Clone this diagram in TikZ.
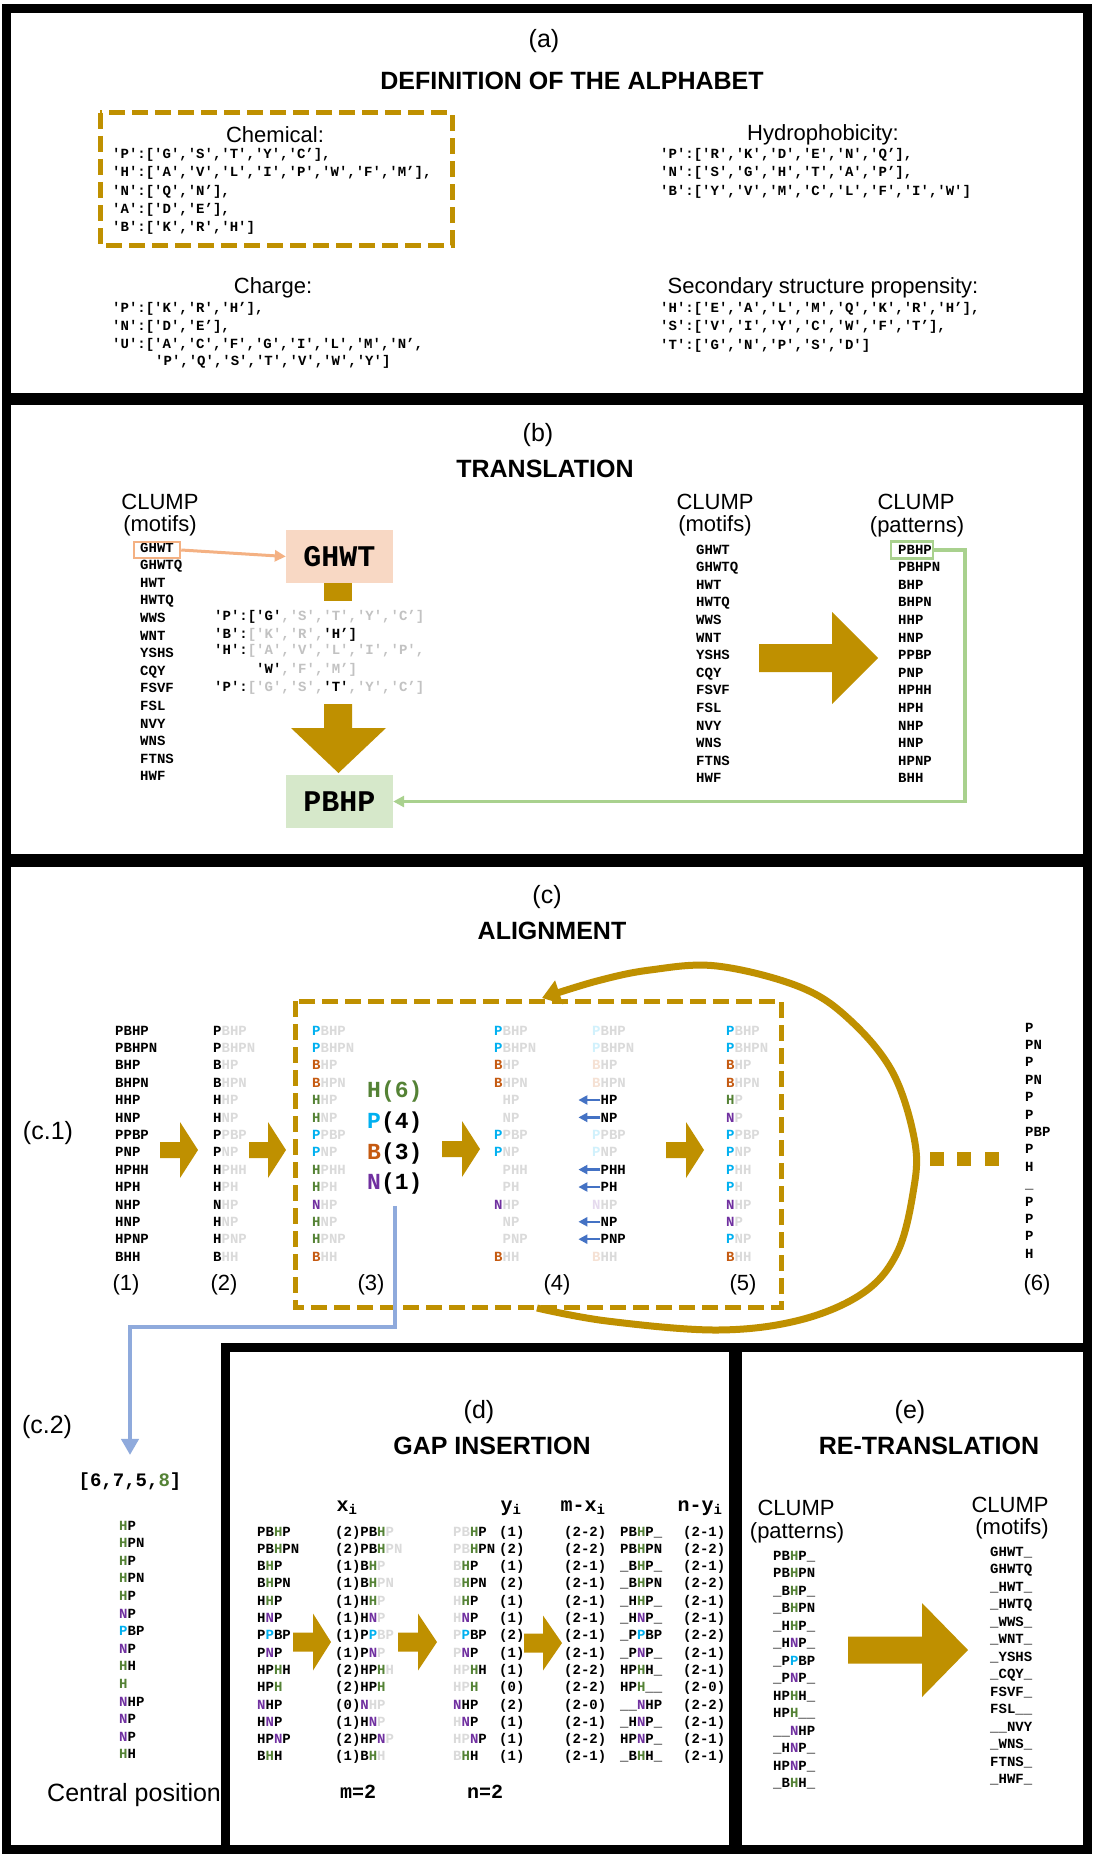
\documentclass[tikz,border=0pt]{standalone}
\usepackage{fontspec}
\setmainfont{Liberation Sans}
\setmonofont{Liberation Mono}
\usetikzlibrary{arrows.meta}
\definecolor{gold}{HTML}{BF9000}
\definecolor{cP}{HTML}{00B0F0}
\definecolor{cB}{HTML}{C55A11}
\definecolor{cH}{HTML}{548235}
\definecolor{cN}{HTML}{7030A0}
\definecolor{ghost}{HTML}{DADADA}
\definecolor{codegray}{HTML}{C2C2C2}
\definecolor{peach}{HTML}{F8D8C4}
\definecolor{lgreen}{HTML}{D6E8CA}
\definecolor{orl}{HTML}{F4B183}
\definecolor{grl}{HTML}{A9D18E}
\definecolor{bluel}{HTML}{8FAADC}
\definecolor{bluea}{HTML}{4472C4}
\newcommand{\setfs}[1]{\fontsize{#1}{#1}\selectfont}
\newcommand{\colr}[1]{\textcolor{c#1}{#1}}
\newcommand{\lcol}[1]{\textcolor{c#1!18}{#1}}
\newcommand{\ghs}[1]{\textcolor{ghost}{#1}}
\newcommand{\cgr}[1]{\textcolor{codegray}{#1}}
\newcommand{\usc}[1]{\ifcase\numexpr2-#1\relax\or\_\or\_\_\fi}
\newcommand{\RArr}[6]{\fill[gold] ({#1},{#4-#5}) -- ({#2},{#4-#5}) -- ({#2},{#4-#6}) -- ({#3},{#4}) -- ({#2},{#4+#6}) -- ({#2},{#4+#5}) -- ({#1},{#4+#5}) -- cycle;}
\begin{document}
\begin{tikzpicture}[x=1pt,y=-1pt,
  mono/.style={font=\ttfamily\bfseries\setfs{14}, inner sep=0pt, anchor=base west},
  bigmono/.style={font=\ttfamily\bfseries\setfs{23}, inner sep=0pt, anchor=base west},
  lbl/.style={font=\setfs{25}, inner sep=0pt},
  ttl/.style={font=\bfseries\setfs{25}, inner sep=0pt},
  sub/.style={font=\setfs{22}, inner sep=0pt},
  num/.style={font=\setfs{22}, inner sep=0pt},
  hdr/.style={font=\ttfamily\bfseries\setfs{20}, inner sep=0pt},
  panel/.style={draw=black, line width=9pt},
  gdash/.style={draw=gold, line width=5pt, dash pattern=on 16pt off 7pt},
  barrow/.style={draw=bluea, line width=2.5pt, -{Triangle[length=9pt,width=9pt]}},
  bigbox/.style={minimum width=107pt, minimum height=53pt, inner sep=0pt, font=\ttfamily\bfseries\setfs{30}},
]
\useasboundingbox (0,0) rectangle (1093,1854);
\fill[white] (0,0) rectangle (1093,1854);

% ---------------- (a)
\node[lbl] (alab) at (544,41) {(a)};
\node[ttl] (atit) at (572,81) {DEFINITION OF THE ALPHABET};
\draw[gdash] (100,113) rectangle (452,245);
\node[sub] (chem) at (275,135) {Chemical:};
\node[mono] (ch1) at (112,159) {'P':['G','S','T','Y','C’],};
\node[mono] (ch2) at (112,177) {'H':['A','V','L','I','P','W','F','M’],};
\node[mono] (ch3) at (112,196) {'N':['Q','N’],};
\node[mono] (ch4) at (112,213) {'A':['D','E’],};
\node[mono] (ch5) at (112,231) {'B':['K','R','H']};
\node[sub] (hyd) at (823,135) {Hydrophobicity:};
\node[mono] (hy1) at (660,159) {'P':['R','K','D','E','N','Q’],};
\node[mono] (hy2) at (660,177) {'N':['S','G','H','T','A','P’],};
\node[mono] (hy3) at (660,196) {'B':['Y','V','M','C','L','F','I','W']};
\node[sub] (chg) at (273,288) {Charge:};
\node[mono] (cg1) at (112,312) {'P':['K','R','H’],};
\node[mono] (cg2) at (112,330) {'N':['D','E’],};
\node[mono] (cg3) at (112,348) {'U':['A','C','F','G','I','L','M','N’,};
\node[mono] (cg4) at (155,365) {'P','Q','S','T','V','W','Y']};
\node[sub] (ssl) at (823,288) {Secondary structure propensity:};
\node[mono] (ss1) at (660,312) {'H':['E','A','L','M','Q','K','R','H’],};
\node[mono] (ss2) at (660,330) {'S':['V','I','Y','C','W','F','T’],};
\node[mono] (ss3) at (660,349) {'T':['G','N','P','S','D']};

% ---------------- (b)
\node[lbl] (blab) at (538,435) {(b)};
\node[ttl] (btit) at (545,469) {TRANSLATION};
\node[sub] (cl1) at (160,502) {CLUMP};
\node[sub] (cl1b) at (160,526) {(motifs)};
\foreach \t [count=\k from 0] in {GHWT,GHWTQ,HWT,HWTQ,WWS,WNT,YSHS,CQY,FSVF,FSL,NVY,WNS,FTNS,HWF}
  \node[mono] (bl\k) at (140,{552+17.6*\k}) {\t};
\node[draw=orl, line width=2.5pt, minimum width=46pt, minimum height=16pt, inner sep=0pt] (o1) at (157,550) {};
\node[bigbox, fill=peach] (ghwt) at (339.5,556.5) {GHWT};
\draw[orl, line width=3pt, -{Triangle[length=11pt,width=11pt]}] (o1.east) -- (ghwt.west);
\fill[gold] (324,583) rectangle (352,601);
\fill[gold] (324,704) -- (352,704) -- (352,728) -- (386,728) -- (338.5,773) -- (291,728) -- (324,728) -- cycle;
\node[mono] (bc1) at (214,620) {'P':['G'\cgr{,'S','T','Y','C’]}};
\node[mono] (bc2) at (214,638) {'B':\cgr{['K','R',}'H’]};
\node[mono] (bc3) at (214,654) {'H':\cgr{['A','V','L','I','P',}};
\node[mono] (bc4) at (256,673) {'W'\cgr{,'F','M’]}};
\node[mono] (bc5) at (214,691) {'P':\cgr{['G','S',}'T'\cgr{,'Y','C’]}};
\node[bigbox, fill=lgreen] (pbhp) at (339.5,801.5) {PBHP};
\node[sub] (cl2) at (715,502) {CLUMP};
\node[sub] (cl2b) at (715,526) {(motifs)};
\foreach \t [count=\k from 0] in {GHWT,GHWTQ,HWT,HWTQ,WWS,WNT,YSHS,CQY,FSVF,FSL,NVY,WNS,FTNS,HWF}
  \node[mono] (bm\k) at (696,{554+17.6*\k}) {\t};
\node[sub] (cl3) at (916,502) {CLUMP};
\node[sub] (cl3b) at (917,527) {(patterns)};
\foreach \t [count=\k from 0] in {PBHP,PBHPN,BHP,BHPN,HHP,HNP,PPBP,PNP,HPHH,HPH,NHP,HNP,HPNP,BHH}
  \node[mono] (br\k) at (898,{554+17.6*\k}) {\t};
\RArr{759}{832}{878}{658}{14}{46}
\node[draw=grl, line width=2.5pt, minimum width=42pt, minimum height=17pt, inner sep=0pt] (g1) at (912,550) {};
\coordinate (gturn) at (965,550);
\draw[grl, line width=3.5pt, -{Triangle[length=11pt,width=11pt]}] (g1.east) -- (gturn) |- (pbhp.east);

% ---------------- (c)
\node[lbl] (clab) at (547,897) {(c)};
\node[ttl] (ctit) at (552,931) {ALIGNMENT};
\node[lbl] (c1lab) at (48,1133) {(c.1)};
\foreach \a/\b [count=\k from 0] in {P/BHP,P/BHPN,B/HP,B/HPN,H/HP,H/NP,P/PBP,P/NP,H/PHH,H/PH,N/HP,H/NP,H/PNP,B/HH}{
  \node[mono] (r1\k) at (115,{1035+17.4*\k}) {\a\b};
  \node[mono] (r2\k) at (213,{1035+17.4*\k}) {\a\ghs{\b}};
  \node[mono] (r3\k) at (312,{1035+17.4*\k}) {\colr{\a}\ghs{\b}};
}
\node[num] (n1l) at (126,1285) {(1)};
\node[num] (n2l) at (224,1285) {(2)};
\node[num] (n3l) at (371,1285) {(3)};
\node[num] (n4l) at (557,1285) {(4)};
\node[num] (n5l) at (743,1285) {(5)};
\node[num] (n6l) at (1037,1285) {(6)};
\RArr{160}{180}{198}{1150}{8}{28}
\RArr{249}{268}{286}{1150}{8}{28}
\RArr{442}{462}{480}{1149}{8}{28}
\RArr{666}{686}{704}{1150}{8}{28}
\draw[gdash] (295,1001) rectangle (781,1307);
\node[bigmono] (h6) at (367,1097) {\textcolor{cH}{H(6)}};
\node[bigmono] (p4) at (367,1128) {\colr{P}(4)};
\node[bigmono] (b3) at (367,1159) {\colr{B}(3)};
\node[bigmono] (n1) at (367,1189) {\colr{N}(1)};
\foreach \a/\b/\f [count=\k from 0] in {P/BHP/1,P/BHPN/1,B/HP/1,B/HPN/1,H/HP/0,H/NP/0,P/PBP/1,P/NP/1,H/PHH/0,H/PH/0,N/HP/1,H/NP/0,H/PNP/0,B/HH/1}{
  \pgfmathsetmacro{\yy}{1035+17.4*\k}
  \ifnum\f=1\relax
    \node[mono] (r4a\k) at (494,\yy) {\colr{\a}\ghs{\b}};
    \node[mono] (r4b\k) at (592,\yy) {\lcol{\a}\ghs{\b}};
  \else
    \node[mono] (r4a\k) at (494,\yy) {\phantom{\a}\ghs{\b}};
    \node[mono] (r4b\k) at (600.4,\yy) {\b};
    \draw[barrow] (r4b\k.west) -- ++(-22,0);
  \fi
}
\foreach \a/\b [count=\k from 0] in {P/BHP,P/BHPN,B/HP,B/HPN,H/P,N/P,P/PBP,P/NP,P/HH,P/H,N/HP,N/P,P/NP,B/HH}
  \node[mono] (r5\k) at (726,{1035+17.4*\k}) {\colr{\a}\ghs{\b}};
\foreach \t [count=\k from 0] in {P,PN,P,PN,P,P,PBP,P,H,\_,P,P,P,H}
  \node[mono] (r6\k) at (1025,{1032+17.4*\k}) {\t};
\draw[gold, line width=7pt, -{Triangle[length=18pt,width=24pt]}] plot[smooth, tension=0.6] coordinates {(537,1308) (607,1321) (717,1330) (800,1320) (863,1293) (897,1253) (913,1193) (915,1143) (893,1073) (850,1020) (800,987) (717,966) (650,970) (597,981) (542,998)};
\fill[gold] (930,1152) rectangle (944,1166);
\fill[gold] (957,1152) rectangle (971,1166);
\fill[gold] (985,1152) rectangle (999,1166);

% (c.2)
\node[lbl] (c2lab) at (47,1427) {(c.2)};
\node[font=\ttfamily\bfseries\setfs{19}, inner sep=0pt] (brk) at (130,1482) {[6,7,5,\textcolor{cH}{8}]};
\coordinate (bturn) at (130,1327);
\draw[bluel, line width=4.5pt, -{Triangle[length=16pt,width=17pt]}, shorten <=12pt, shorten >=18pt] (n1.south) |- (bturn) -- (brk.north);
\foreach \a/\b [count=\k from 0] in {H/P,H/PN,H/P,H/PN,H/P,N/P,P/BP,N/P,H/H,H/{},N/HP,N/P,N/P,H/H}
  \node[mono] (cc\k) at (119,{1530+17.6*\k}) {\colr{\a}\b};
\node[lbl, anchor=west] (cent) at (47,1795) {Central position};

% ---------------- (d)
\node[lbl] (dlab) at (479,1412) {(d)};
\node[ttl] (dtit) at (492,1446) {GAP INSERTION};
\node[hdr] (hx) at (347,1508) {x\textsubscript{i}};
\node[hdr] (hy) at (511,1508) {y\textsubscript{i}};
\node[hdr] (hmx) at (583,1508) {m-x\textsubscript{i}};
\node[hdr] (hny) at (700,1508) {n-y\textsubscript{i}};
\foreach \x/\y/\a/\b/\c [count=\k from 0] in {2/1/PB/H/P,2/2/PB/H/PN,1/1/B/H/P,1/2/B/H/PN,1/1/H/H/P,1/1/H/N/P,1/2/P/P/BP,1/1/P/N/P,2/1/HP/H/H,2/0/HP/H/{},0/2/{}/N/HP,1/1/H/N/P,2/1/HP/N/P,1/1/B/H/H}{
  \pgfmathsetmacro{\yy}{1536+17.3*\k}
  \node[mono] (d1\k) at (257,\yy) {\a\colr{\b}\c};
  \node[mono] (dx\k) at (335,\yy) {(\x)\a\colr{\b}\ghs{\c}};
  \node[mono] (dy\k) at (453,\yy) {\ghs{\a}\colr{\b}\c};
  \node[mono] (dyv\k) at (499,\yy) {(\y)};
  \node[mono] (dmx\k) at (564,\yy) {(2-\x)};
  \node[mono] (dg\k) at (620,\yy) {\usc{\x}\a\colr{\b}\c\usc{\y}};
  \node[mono] (dny\k) at (683,\yy) {(2-\y)};
  \node[mono] (el\k) at (773,{1560+17.5*\k}) {\usc{\x}\a\colr{\b}\c\usc{\y}};
}
\RArr{293}{313}{331}{1642}{9.5}{28.5}
\RArr{398}{418}{437}{1642}{9.5}{28.5}
\RArr{524}{543}{562}{1643}{9.5}{27.5}
\node[hdr] (mlab) at (358,1792) {m=2};
\node[hdr] (nlab) at (485,1792) {n=2};

% ---------------- (e)
\node[lbl] (elab) at (910,1412) {(e)};
\node[ttl] (etit) at (929,1446) {RE-TRANSLATION};
\node[sub] (cl4) at (796,1508) {CLUMP};
\node[sub] (cl4b) at (797,1533) {(patterns)};
\node[sub] (cl5) at (1010,1505) {CLUMP};
\node[sub] (cl5b) at (1012,1529) {(motifs)};
\foreach \t [count=\k from 0] in {GHWT\_,GHWTQ,\_HWT\_,\_HWTQ,\_WWS\_,\_WNT\_,\_YSHS,\_CQY\_,FSVF\_,FSL\_\_,\_\_NVY,\_WNS\_,FTNS\_,\_HWF\_}
  \node[mono] (er\k) at (990,{1556+17.5*\k}) {\t};
\RArr{848}{922}{968}{1650}{13.5}{47}

% ---------------- panel frames
\draw[panel] (6,8.5) rectangle (1087,397);
\draw[panel] (6,400) rectangle (1087,858);
\draw[panel] (6,862) -- (1087,862) -- (1087,1347) -- (225,1347) -- (225,1849) -- (6,1849) -- cycle;
\draw[panel] (225,1347) rectangle (733,1849);
\draw[panel] (737,1347) rectangle (1087,1849);
\end{tikzpicture}
\end{document}
